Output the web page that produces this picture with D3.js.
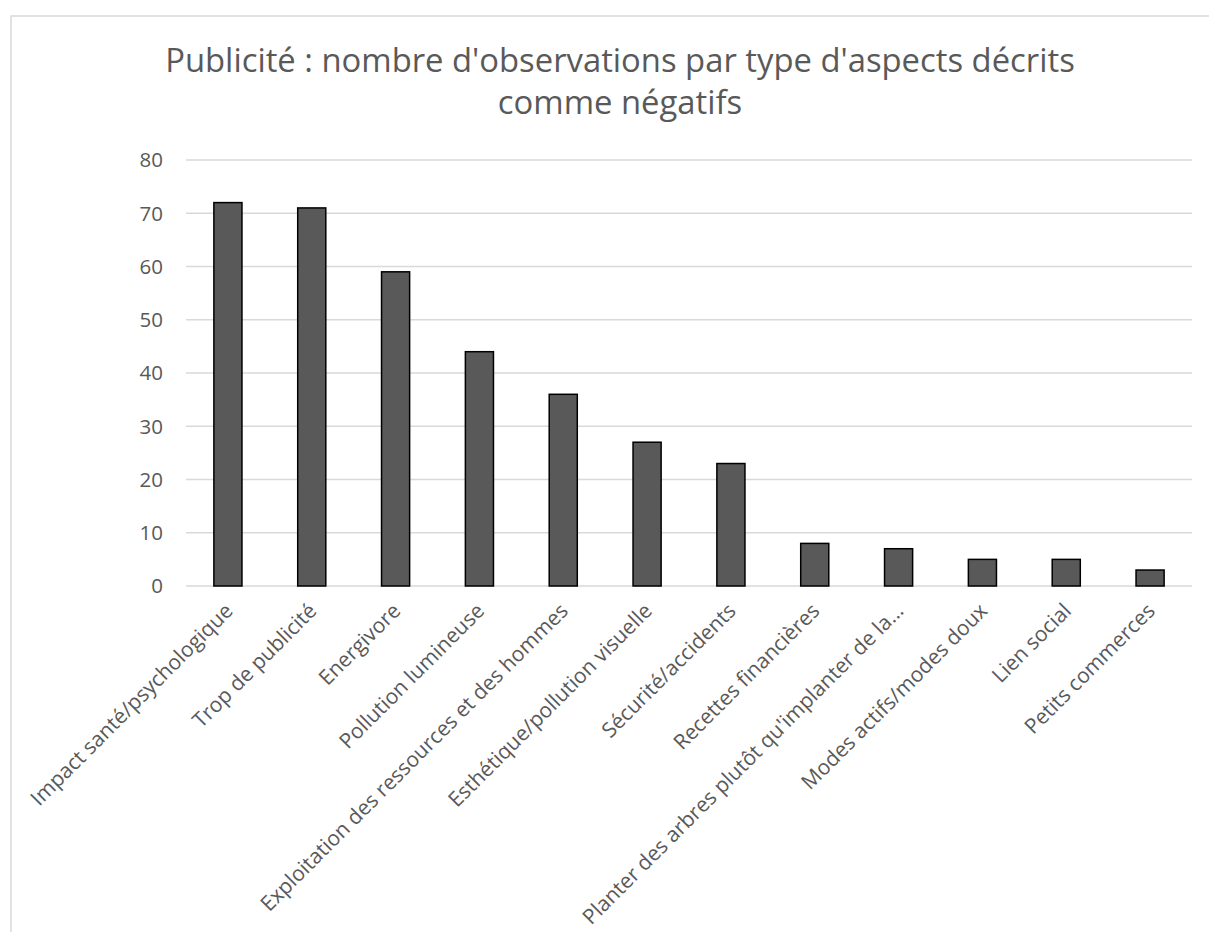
<!DOCTYPE html>
<html><head><meta charset="utf-8">
<script src="https://cdn.jsdelivr.net/npm/d3@7"></script>
<style>body{margin:0;background:#fff;} svg{display:block;}</style>
</head><body>
<script>
const categories = ["Impact santé/psychologique","Trop de publicité","Energivore","Pollution lumineuse","Exploitation des ressources et des hommes","Esthétique/pollution visuelle","Sécurité/accidents","Recettes financières","Planter des arbres plutôt qu'implanter de la…","Modes actifs/modes doux","Lien social","Petits commerces"];
const values = [72,71,59,44,36,27,23,8,7,5,5,3];
const yTicks = [0,10,20,30,40,50,60,70,80];
const titleLines = ["Publicité : nombre d'observations par type d'aspects décrits","comme négatifs"];

const W=1209,H=932;
const font="'Open Sans', 'Noto Sans', sans-serif";
const svg=d3.select("body").append("svg").attr("width",W).attr("height",H);
svg.append("rect").attr("x",11).attr("y",16).attr("width",W+10).attr("height",H+10)
  .attr("fill","#fff").attr("stroke","#d9d9d9").attr("stroke-width",1.5);

const x=d3.scaleBand().domain(categories).range([186,1192]).paddingInner(0.665).paddingOuter(0.3325);
const y=d3.scaleLinear().domain([0,80]).range([586,160]);

svg.append("g").selectAll("line").data(yTicks).join("line")
  .attr("x1",186).attr("x2",1192).attr("y1",d=>y(d)).attr("y2",d=>y(d))
  .attr("stroke","#d9d9d9").attr("stroke-width",1.3);

svg.append("g").selectAll("text").data(yTicks).join("text")
  .attr("x",163).attr("y",d=>y(d)).attr("dy","0.36em").attr("text-anchor","end")
  .attr("font-family",font).attr("font-size",20.5).attr("fill","#595959").text(d=>d);

svg.append("g").selectAll("rect").data(values).join("rect")
  .attr("x",(d,i)=>x(categories[i])).attr("width",x.bandwidth())
  .attr("y",d=>y(d)).attr("height",d=>y(0)-y(d))
  .attr("fill","#595959").attr("stroke","#000").attr("stroke-width",1.5);

svg.append("g").selectAll("text").data(categories).join("text")
  .attr("transform",d=>`translate(${x(d)+x.bandwidth()/2+1},${607}) rotate(-45)`)
  .attr("text-anchor","end").attr("dy","0.35em")
  .attr("font-family",font).attr("font-size",21).attr("fill","#595959").text(d=>d);

svg.append("g").selectAll("text").data(titleLines).join("text")
  .attr("x",620).attr("y",(d,i)=>72+i*42).attr("text-anchor","middle")
  .attr("font-family",font).attr("font-size",32.8).attr("fill","#595959").text(d=>d);
</script>
</body></html>
